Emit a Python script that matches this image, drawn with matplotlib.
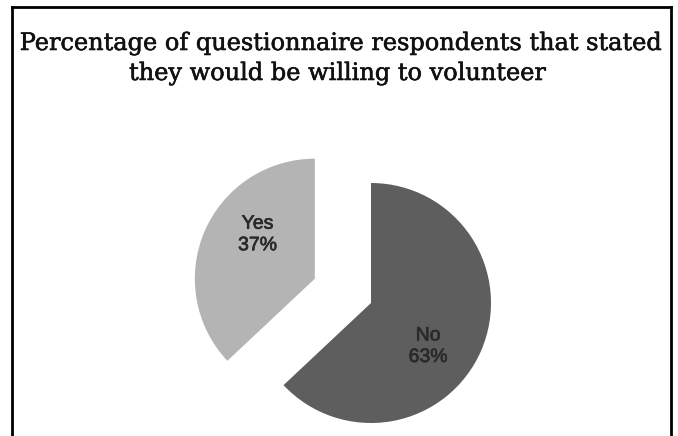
import numpy as np
import matplotlib.pyplot as plt
import matplotlib.patheffects as pe
from matplotlib.lines import Line2D

labels = ['No', 'Yes']
values = [63, 37]
colors = ['#5e5e5e', '#b4b4b4']
explode = [0, 0.51]  # fraction of the radius

W, H = 678, 436
fig = plt.figure(figsize=(W / 100, H / 100), dpi=100)
fig.patch.set_facecolor('white')

# axes in pixel units so the pie can sit where it should in the frame
ax = fig.add_axes([0, 0, 1, 1])

cx, cy, r = 371, H - 303, 120
wedges, _ = ax.pie(values, colors=colors, explode=[e * r for e in explode],
                   startangle=90, counterclock=False, center=(cx, cy),
                   radius=r, wedgeprops=dict(linewidth=0), frame=True)
ax.set_xlim(0, W)
ax.set_ylim(0, H)
ax.set_aspect('equal')
ax.axis('off')

# data labels, a bit clockwise of each slice's middle
for w, lab, v in zip(wedges, labels, values):
    ang = np.deg2rad((w.theta1 + w.theta2) / 2 - 14)
    x = w.center[0] + 0.6 * r * np.cos(ang)
    y = w.center[1] + 0.6 * r * np.sin(ang)
    t = ax.text(x, y, f'{lab}\n{v}%', ha='center', va='center',
                fontsize=14, fontfamily='Liberation Sans', color='#2a2a2a',
                linespacing=1.35)
    t.set_path_effects([pe.withStroke(linewidth=0.5, foreground='#2a2a2a')])

# slightly heavier serif title
title_kw = dict(ha='center', va='baseline', fontsize=17.3,
                fontfamily='DejaVu Serif', color='#111111',
                path_effects=[pe.withStroke(linewidth=0.4, foreground='#111111')])
fig.text(342 / W, 1 - 50 / H, 'Percentage of questionnaire respondents that stated',
         **title_kw)
fig.text(338 / W, 1 - 80 / H, 'they would be willing to volunteer', **title_kw)

# open-bottom frame around the chart
lx, rx, ty = 12, 671, H - 7
for xs, ys in [([lx, lx], [0, ty]), ([lx, rx], [ty, ty]), ([rx, rx], [ty, 0])]:
    fig.add_artist(Line2D(np.array(xs) / W, np.array(ys) / H, color='black',
                          linewidth=2, solid_capstyle='projecting'))

fig.savefig('out.png', dpi=100)
